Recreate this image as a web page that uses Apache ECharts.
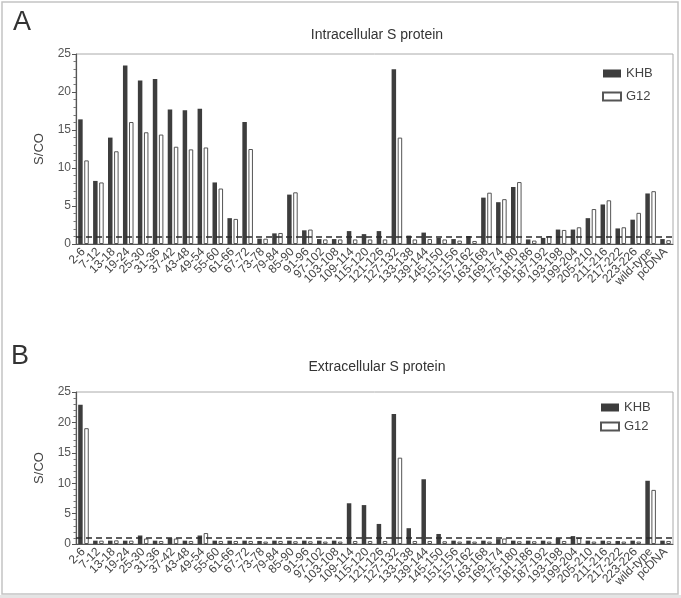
<!DOCTYPE html>
<html>
<head>
<meta charset="utf-8">
<script src="https://cdn.jsdelivr.net/npm/echarts@6/dist/echarts.min.js"></script>
<style>
html,body{margin:0;padding:0;background:#fff;}
#main{width:681px;height:598px;}
</style>
</head>
<body>
<div id="main"></div>
<script>
const categories = ["2-6","7-12","13-18","19-24","25-30","31-36","37-42","43-48","49-54","55-60","61-66","67-72","73-78","79-84","85-90","91-96","97-102","103-108","109-114","115-120","121-126","127-132","133-138","139-144","145-150","151-156","157-162","163-168","169-174","175-180","181-186","187-192","193-198","199-204","205-210","211-216","217-222","223-226","wild-type","pcDNA"];

const intraKHB = [16.4,8.3,14.0,23.5,21.5,21.7,17.7,17.6,17.8,8.1,3.4,16.05,0.7,1.4,6.5,1.8,0.65,0.65,1.7,1.3,1.7,23.0,1.1,1.5,0.8,0.65,1.05,6.1,5.5,7.5,0.6,0.8,1.9,1.9,3.4,5.2,2.05,3.2,6.65,0.65];
const intraG12 = [11.0,8.1,12.2,16.05,14.7,14.4,12.8,12.45,12.7,7.3,3.3,12.5,0.7,1.45,6.8,1.9,0.6,0.6,0.6,0.6,0.6,14.0,0.6,0.65,0.6,0.45,0.4,6.75,5.9,8.15,0.45,1.05,1.85,2.2,4.6,5.75,2.2,4.1,6.95,0.5];

const extraKHB = [22.9,0.55,0.55,0.55,1.4,0.55,0.95,0.55,1.4,0.55,0.55,0.55,0.5,0.55,0.55,0.55,0.55,0.55,6.7,6.4,3.3,21.4,2.6,10.65,1.65,0.55,0.55,0.55,0.8,0.55,0.55,0.55,0.95,1.3,0.55,0.55,0.5,0.55,10.4,0.55];
const extraG12 = [19.05,0.55,0.6,0.55,0.9,0.5,0.9,0.5,1.8,0.5,0.5,0.5,0.4,0.5,0.45,0.45,0.4,0.4,0.5,0.5,0.5,14.2,0.5,0.5,0.45,0.4,0.4,0.4,0.9,0.45,0.45,0.4,0.5,1.0,0.4,0.45,0.4,0.4,8.9,0.5];

const cutoff = 1;
const yTicks = {min:0, max:25, interval:5};

const FONT = 'Liberation Sans, Arial, sans-serif';
const chart = echarts.init(document.getElementById('main'), null, {renderer:'canvas'});

function xAxis(gi){
  return {
    type:'category', gridIndex:gi, data:categories, boundaryGap:true,
    axisLine:{lineStyle:{color:'#555', width:1.2}},
    axisTick:{alignWithLabel:true, length:5, lineStyle:{color:'#555'}},
    axisLabel:{interval:0, rotate:45, fontSize:12, color:'#444', margin:6, fontFamily:FONT}
  };
}
function yAxis(gi){
  return {
    type:'value', gridIndex:gi, min:yTicks.min, max:yTicks.max, interval:yTicks.interval,
    name:'S/CO', nameLocation:'middle', nameRotate:90, nameGap:30,
    nameTextStyle:{fontSize:13, color:'#444', fontFamily:FONT},
    axisLine:{show:true, lineStyle:{color:'#555', width:1.2}},
    axisTick:{show:true, length:4, lineStyle:{color:'#555'}},
    minorTick:{show:true, splitNumber:5, length:2.5, lineStyle:{color:'#777'}},
    splitLine:{show:false},
    axisLabel:{fontSize:12, color:'#555', margin:5, fontFamily:FONT}
  };
}
const markLine = {
  symbol:'none', silent:true, label:{show:false},
  lineStyle:{type:[6,4], color:'#2a2a2a', width:1.6},
  data:[{yAxis:cutoff}]
};
function khb(data, gi){
  return {name:'KHB', type:'bar', xAxisIndex:gi, yAxisIndex:gi, data:data, barWidth:4.5, barGap:'35%',
    itemStyle:{color:'#3d3d3d'}, markLine:markLine, animation:false};
}
function g12(data, gi){
  return {name:'G12', type:'bar', xAxisIndex:gi, yAxisIndex:gi, data:data, barWidth:4.5, barGap:'35%',
    itemStyle:{color:'#ffffff', borderColor:'#555', borderWidth:1}, animation:false};
}

chart.setOption({
  animation:false,
  textStyle:{fontFamily:FONT},
  title:[
    {text:'Intracellular S protein', left:372, top:23, textAlign:'center',
      textStyle:{fontSize:14, fontWeight:'normal', color:'#333', fontFamily:FONT}},
    {text:'Extracellular S protein', left:372, top:355, textAlign:'center',
      textStyle:{fontSize:14, fontWeight:'normal', color:'#333', fontFamily:FONT}},
    {text:'A', left:8, top:4, textStyle:{fontSize:27, fontWeight:'normal', color:'#333', fontFamily:FONT}},
    {text:'B', left:6, top:338, textStyle:{fontSize:27, fontWeight:'normal', color:'#333', fontFamily:FONT}}
  ],
  legend:[
    {orient:'vertical', left:597, top:62, itemWidth:18, itemHeight:8, itemGap:10, icon:'rect',
      data:['KHB','G12'], textStyle:{fontSize:13, color:'#444'}, selectedMode:false},
    {orient:'vertical', left:595, top:396, itemWidth:18, itemHeight:8, itemGap:6, icon:'rect',
      data:['KHB','G12'], textStyle:{fontSize:13, color:'#444'}, selectedMode:false}
  ],
  grid:[
    {left:76, top:54, width:597, height:190, show:true, borderColor:'#aaa', borderWidth:1, containLabel:false},
    {left:76, top:392, width:597, height:152, show:true, borderColor:'#aaa', borderWidth:1, containLabel:false}
  ],
  xAxis:[xAxis(0), xAxis(1)],
  yAxis:[yAxis(0), yAxis(1)],
  series:[khb(intraKHB,0), g12(intraG12,0), khb(extraKHB,1), g12(extraG12,1)],
  graphic:[
    {type:'rect', z:-1, shape:{x:2, y:2, width:676, height:592}, style:{fill:'none', stroke:'#c4c4c4', lineWidth:1.5}},
    {type:'rect', z:-1, shape:{x:0, y:595, width:681, height:3}, style:{fill:'#e4e4e4'}}
  ]
});
</script>
</body>
</html>
